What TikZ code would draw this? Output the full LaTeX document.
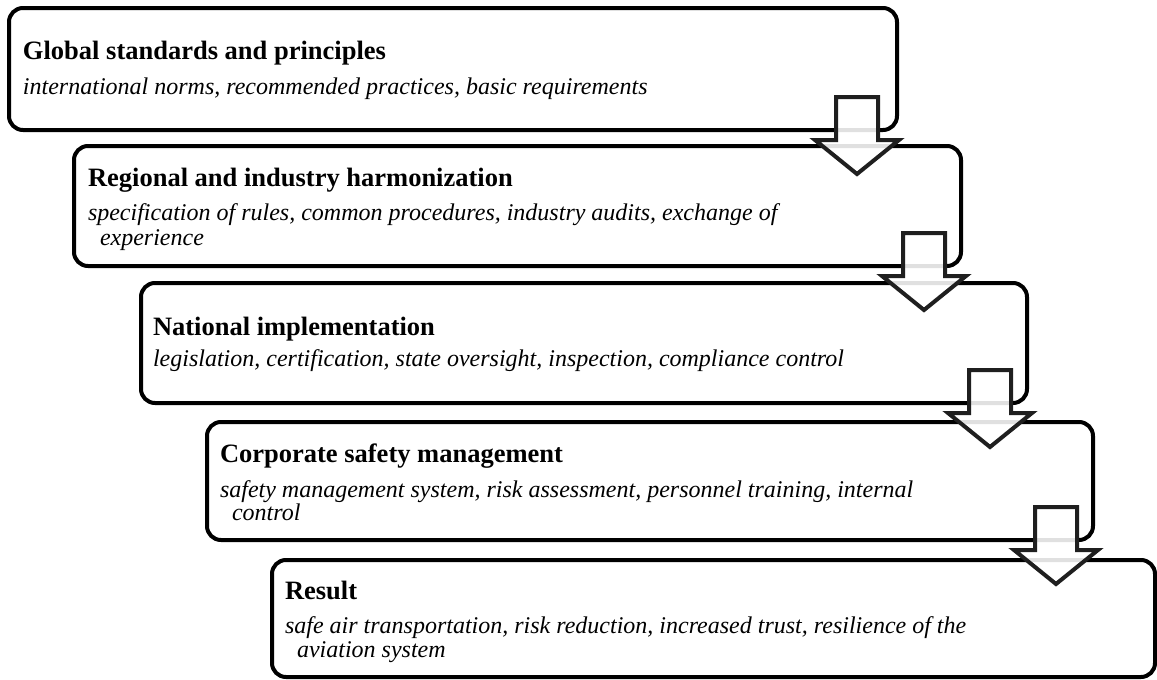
\documentclass[tikz,border=0pt]{standalone}
\usepackage{fontspec}
\setmainfont{Liberation Serif}
\usetikzlibrary{calc}
\tikzset{
  box/.style={draw=black, line width=4pt, rounded corners=14pt, outer sep=0pt, inner sep=0pt, anchor=north west},
  ttl/.style={font=\fontsize{26.5}{30}\selectfont\bfseries, anchor=base west, inner sep=0pt, outer sep=0pt},
  dsc/.style={font=\fontsize{24}{26}\selectfont\itshape, anchor=base west, inner sep=0pt, outer sep=0pt},
  blockarrow/.style={draw=black!88, line width=4pt, fill=white, fill opacity=0.88, miter limit=10},
}
\newcommand{\downblock}[1]{%
  \draw[blockarrow] (#1) ++(-21,0) -- ++(42,0) -- ++(0,43) -- ++(21,0) -- ++(-42,34) -- ++(-42,-34) -- ++(21,0) -- cycle;}
\begin{document}
\begin{tikzpicture}[x=1pt,y=-1pt]
\useasboundingbox (0,0) rectangle (1157,680);
% boxes
\node[box, minimum width=888pt, minimum height=122pt] (b1) at (9,8) {};
\node[box, minimum width=887pt, minimum height=120pt] (b2) at (74,146) {};
\node[box, minimum width=886pt, minimum height=120pt] (b3) at (141,283) {};
\node[box, minimum width=886pt, minimum height=118pt] (b4) at (207,422) {};
\node[box, minimum width=883pt, minimum height=117pt] (b5) at (272,560) {};
% texts
\node[ttl] (t1) at ($(b1.north west)+(14,51)$) {Global standards and principles};
\node[dsc] (d1) at ($(b1.north west)+(14,86)$) {international norms, recommended practices, basic requirements};
\node[ttl] (t2) at ($(b2.north west)+(14,40)$) {Regional and industry harmonization};
\node[dsc] (d2) at ($(b2.north west)+(14,74)$) {specification of rules, common procedures, industry audits, exchange of};
\node[dsc] (e2) at ($(b2.north west)+(26,99)$) {experience};
\node[ttl] (t3) at ($(b3.north west)+(12,52)$) {National implementation};
\node[dsc] (d3) at ($(b3.north west)+(12,83)$) {legislation, certification, state oversight, inspection, compliance control};
\node[ttl] (t4) at ($(b4.north west)+(13,40)$) {Corporate safety management};
\node[dsc] (d4) at ($(b4.north west)+(13,75)$) {safety management system, risk assessment, personnel training, internal};
\node[dsc] (e4) at ($(b4.north west)+(25,98)$) {control};
\node[ttl] (t5) at ($(b5.north west)+(13,39)$) {Result};
\node[dsc] (d5) at ($(b5.north west)+(13,73)$) {safe air transportation, risk reduction, increased trust, resilience of the};
\node[dsc] (e5) at ($(b5.north west)+(25,97)$) {aviation system};
% arrows
\coordinate (a1) at ($(b1.south east)+(-40,-33)$);
\coordinate (a2) at ($(b2.south east)+(-37,-33)$);
\coordinate (a3) at ($(b3.south east)+(-37,-33)$);
\coordinate (a4) at ($(b4.south east)+(-37,-33)$);
\downblock{a1}
\downblock{a2}
\downblock{a3}
\downblock{a4}
\end{tikzpicture}
\end{document}
